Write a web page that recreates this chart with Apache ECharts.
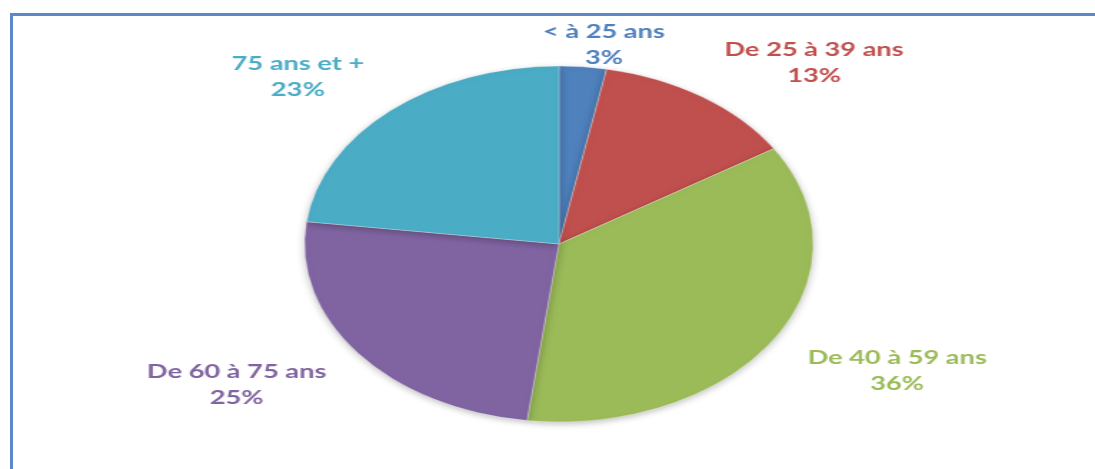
<!DOCTYPE html>
<html>
<head>
<meta charset="utf-8">
<script src="https://cdn.jsdelivr.net/npm/echarts@6/dist/echarts.min.js"></script>
<style>
  html, body { margin: 0; padding: 0; background: #fff; }
  #wrap { position: relative; width: 1095px; height: 469px; overflow: hidden; background: #fff; }
  #frame { position: absolute; left: 10px; top: 13px; width: 1200px; height: 600px;
           border-left: 3px solid #5b89c7; border-top: 3px solid #5b89c7; }
  /* the reference picture is stretched sideways, so the chart is drawn narrow and stretched */
  #e_chart_1 { position: absolute; left: 0; top: 0; width: 766px; height: 469px;
               transform: scaleX(1.4295); transform-origin: 0 0; }
</style>
</head>
<body>
<div id="wrap">
  <div id="frame"></div>
  <div id="e_chart_1"></div>
</div>
<script>
var categories = ['< à 25 ans', 'De 25 à 39 ans', 'De 40 à 59 ans', 'De 60 à 75 ans', '75 ans et +'];
var values = [3, 13, 36, 25, 23];
var colors = ['#4f81bd', '#c0504d', '#9bbb59', '#8064a2', '#4bacc6'];

var dom = document.getElementById("e_chart_1");
var myChart = echarts.init(dom);

var cx = 391, cy = 244, radius = 178;
var total = 0;
values.forEach(function (v) { total += v; });

var pieData = [];
for (var i = 0; i < categories.length; i++) {
    pieData.push({
        name: categories[i],
        value: values[i],
        itemStyle: { color: colors[i] },
        label: { color: colors[i] }
    });
}

// excel-like "outside end" placement of the labels
function placeLabel(params) {
    var i = params.dataIndex;
    var before = 0;
    for (var k = 0; k < i; k++) before += values[k];
    var a = (before + values[i] / 2) / total * 2 * Math.PI;
    var dx = Math.sin(a), dy = -Math.cos(a);
    var Lx = radius + 28, Ly = radius + 10;
    var w = params.labelRect.width, h = params.labelRect.height;
    var hx = Math.max(-1, Math.min(1, dx * 3));
    var hy = Math.max(-1, Math.min(1, dy * 3));
    var x = cx + dx * Lx + hx * w / 2;
    var y = cy + dy * Ly + hy * h / 2;
    y = Math.max(y, 19 + h / 2);
    return { x: x, y: y, align: 'center', verticalAlign: 'middle' };
}

var option = {
    animation: false,
    backgroundColor: 'transparent',
    series: [{
        type: 'pie',
        center: [cx, cy],
        radius: radius,
        startAngle: 90,
        clockwise: true,
        avoidLabelOverlap: false,
        itemStyle: {
            borderColor: 'rgba(255,255,255,0.6)',
            borderWidth: 0.5,
            shadowBlur: 6,
            shadowOffsetY: 2,
            shadowColor: 'rgba(0,0,0,0.25)'
        },
        label: {
            show: true,
            position: 'outside',
            fontFamily: 'Lato',
            fontWeight: 'bold',
            fontSize: 19,
            lineHeight: 26,
            align: 'center',
            formatter: function (p) {
                return p.name + '\n' + Math.round(p.percent) + '%';
            }
        },
        labelLine: { show: false },
        labelLayout: placeLabel,
        emphasis: { disabled: true },
        data: pieData
    }]
};

if (option && typeof option === "object") {
    myChart.setOption(option, true);
}
</script>
</body>
</html>
